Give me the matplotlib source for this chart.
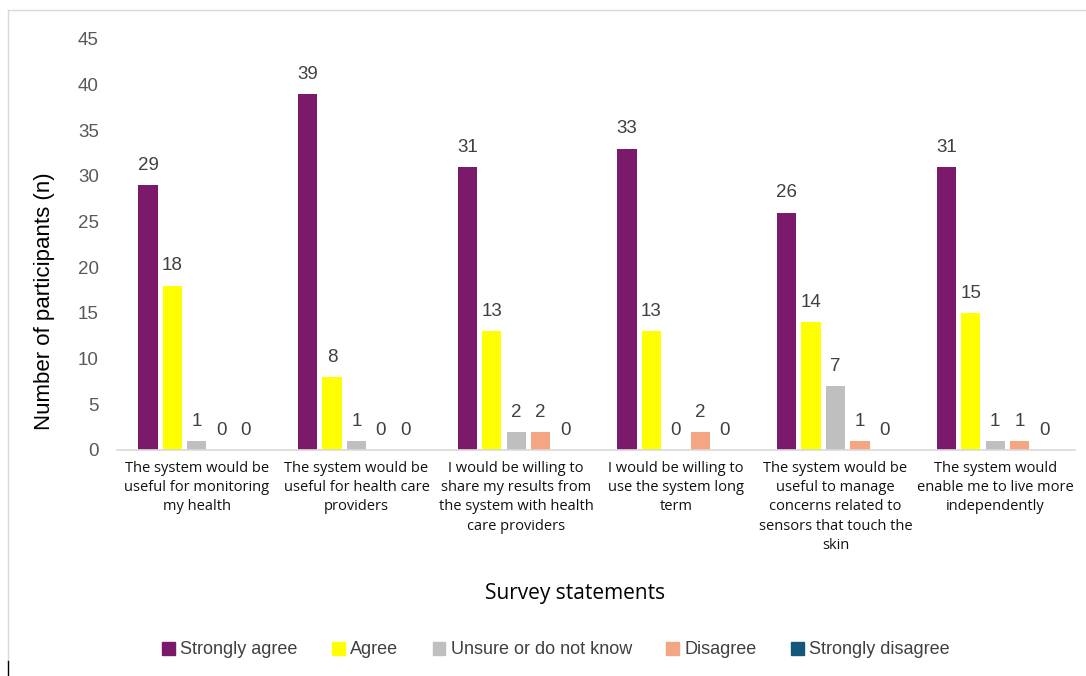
import matplotlib
matplotlib.use("Agg")
import matplotlib.pyplot as plt
import numpy as np
from matplotlib.lines import Line2D

categories = [
    "The system would be\nuseful for monitoring\nmy health",
    "The system would be\nuseful for health care\nproviders",
    "I would be willing to\nshare my results from\nthe system with health\ncare providers",
    "I would be willing to\nuse the system long\nterm",
    "The system would be\nuseful to manage\nconcerns related to\nsensors that touch the\nskin",
    "The system would\nenable me to live more\nindependently",
]
series_names = ["Strongly agree", "Agree", "Unsure or do not know", "Disagree", "Strongly disagree"]
strongly_agree = [29, 39, 31, 33, 26, 31]
agree = [18, 8, 13, 13, 14, 15]
unsure = [1, 1, 2, 0, 7, 1]
disagree = [0, 0, 2, 2, 1, 1]
strongly_disagree = [0, 0, 0, 0, 0, 0]
series_values = [strongly_agree, agree, unsure, disagree, strongly_disagree]
colors = ["#7B1A6A", "#FFFF00", "#BFBFBF", "#F4A582", "#13587B"]
y_ticks = [0, 5, 10, 15, 20, 25, 30, 35, 40, 45]

plt.rcParams['font.family'] = ['Liberation Sans', 'DejaVu Sans']

fig = plt.figure(figsize=(10.86, 6.76), dpi=100)
ax = fig.add_axes([117/1086, 1-450/676, (1075-117)/1086, (450-39)/676])

x = np.arange(len(categories))
width = 0.12
step = 0.153
for i, (name, vals, c) in enumerate(zip(series_names, series_values, colors)):
    pos = x + (i - 2) * step
    ax.bar(pos, vals, width=width, color=c, label=name)
    for p, v in zip(pos, vals):
        ax.annotate(str(v), (p, v), xytext=(0, 8), textcoords="offset points",
                    ha="center", va="bottom", fontsize=13.5, color="#404040")

ax.set_xlim(-0.5, len(categories) - 0.5)
ax.set_ylim(0, 45)
ax.set_yticks(y_ticks)
ax.set_xticks(x)
ax.set_xticklabels(categories, fontsize=10.5, color="#111111",
                   family=['Open Sans', 'DejaVu Sans'], linespacing=1.38)
ax.tick_params(axis='x', length=0, pad=8)
ax.tick_params(axis='y', length=0, labelsize=13.5, labelcolor="#595959", pad=13)
for s in ["top", "right", "left"]:
    ax.spines[s].set_visible(False)
ax.spines["bottom"].set_color("#D9D9D9")
ax.spines["bottom"].set_linewidth(1.2)

ax.set_ylabel("Number of participants (n)", fontsize=16, color="#000000")
ax.yaxis.set_label_coords((55-117)/958, (450-301)/411)
fig.text(575/1086, 1-594/676, "Survey statements", fontsize=15, ha="center", va="center",
         family=['Open Sans', 'DejaVu Sans'])

handles = [plt.Rectangle((0, 0), 1, 1, color=c) for c in colors]
fig.legend(handles, series_names, loc="center", bbox_to_anchor=(556/1086, 1-650/676),
           ncol=5, frameon=False, fontsize=13, handlelength=0.7, handleheight=0.7,
           handletextpad=0.3, columnspacing=1.9, labelcolor="#404040")

# outer frame
fig.add_artist(Line2D([8/1086, 1085/1086], [1-10/676, 1-10/676], transform=fig.transFigure, color="#D9D9D9", lw=1))
fig.add_artist(Line2D([8/1086, 8/1086], [1-10/676, 1-661/676], transform=fig.transFigure, color="#D9D9D9", lw=1))
fig.add_artist(Line2D([8/1086, 8/1086], [1-661/676, 0], transform=fig.transFigure, color="#000000", lw=1))

fig.savefig("out.png", dpi=100)
